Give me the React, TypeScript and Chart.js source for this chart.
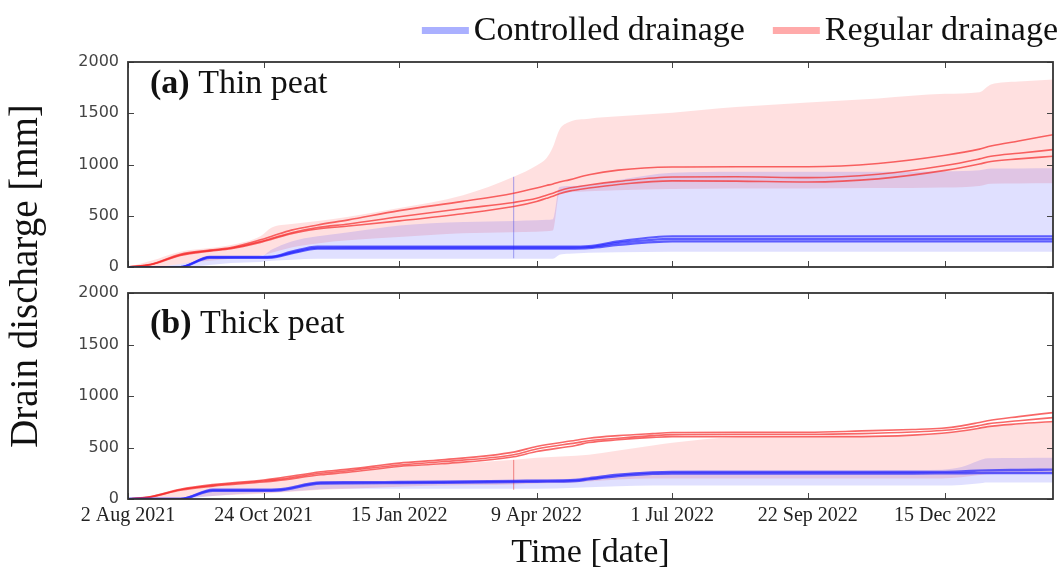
import React, { useEffect, useRef } from 'react';
import { Chart, registerables } from 'chart.js';

Chart.register(...registerables);

// ---------- axes ----------
const xTickDays = [0, 83, 166, 250, 333, 416, 500];
const xTickLabels = ['2 Aug 2021', '24 Oct 2021', '15 Jan 2022', '9 Apr 2022', '1 Jul 2022', '22 Sep 2022', '15 Dec 2022'];
const xMaxDay = 566;
const yTicks = [0, 500, 1000, 1500, 2000];

const legendLabels = ['Controlled drainage', 'Regular drainage'];
const panelLetters = ['(a)', '(b)'];
const panelNames = ['Thin peat', 'Thick peat'];
const yTitle = 'Drain discharge [mm]';
const xTitle = 'Time [date]';

// ---------- panel (a) thin peat : days since 2 Aug 2021 ----------
const daysA = [0, 14, 32, 50, 63, 81, 88, 100, 116, 135, 166, 205, 236, 250, 256, 260, 264, 270, 282, 300, 333, 372, 416, 459, 500, 521, 528, 545, 566];
const aRegHi = [0, 60, 150, 185, 215, 300, 385, 420, 450, 490, 575, 700, 880, 990, 1060, 1170, 1340, 1415, 1447, 1470, 1505, 1560, 1605, 1645, 1690, 1705, 1780, 1810, 1830];
const aRegLo = [0, 0, 30, 60, 80, 110, 140, 190, 230, 260, 293, 330, 340, 345, 350, 355, 715, 730, 740, 750, 760, 765, 765, 770, 775, 790, 812, 815, 817];
const aCtrlHi = [0, 0, 30, 80, 90, 100, 170, 250, 300, 340, 406, 440, 450, 455, 460, 465, 780, 790, 800, 850, 920, 930, 930, 930, 935, 945, 960, 962, 963];
const aCtrlLo = [0, 0, 0, 20, 40, 50, 60, 70, 80, 80, 81, 81, 81, 81, 81, 81, 120, 130, 140, 145, 150, 150, 150, 150, 150, 150, 150, 150, 150];
const aReg1 = [0, 26, 125, 165, 190, 265, 300, 360, 410, 460, 550, 640, 720, 770, 795, 810, 830, 850, 900, 945, 975, 978, 978, 1010, 1090, 1150, 1180, 1230, 1290];
const aReg2 = [0, 24, 118, 160, 183, 248, 280, 335, 385, 420, 490, 570, 630, 670, 700, 720, 745, 770, 800, 835, 878, 880, 872, 905, 990, 1055, 1080, 1110, 1145];
const aReg3 = [0, 22, 112, 155, 178, 240, 270, 325, 370, 400, 450, 520, 590, 640, 670, 690, 715, 740, 770, 805, 840, 838, 830, 860, 943, 1005, 1030, 1055, 1080];
const aCtrl1 = [0, 0, 0, 100, 100, 100, 102, 150, 200, 200, 200, 200, 200, 200, 200, 200, 200, 200, 205, 250, 300, 300, 300, 300, 300, 300, 300, 300, 300];
const aCtrl2 = [0, 0, 0, 95, 95, 95, 97, 140, 188, 190, 190, 190, 190, 190, 190, 190, 190, 190, 195, 235, 275, 275, 275, 275, 275, 275, 275, 275, 275];
const aCtrl3 = [0, 0, 0, 90, 90, 90, 92, 132, 178, 180, 180, 180, 180, 180, 180, 180, 180, 180, 184, 215, 250, 250, 250, 250, 250, 250, 250, 250, 250];
const aStreakDay = [236, 236];
const aStreak = [85, 880];

// ---------- panel (b) thick peat ----------
const daysB = [0, 14, 32, 52, 83, 91, 118, 135, 166, 192, 236, 250, 274, 282, 300, 321, 333, 372, 416, 449, 480, 498, 510, 520, 526, 545, 566];
const bRegHi = [0, 20, 80, 122, 162, 175, 232, 255, 305, 335, 380, 400, 420, 430, 470, 520, 545, 600, 605, 606, 618, 636, 656, 680, 698, 725, 748];
const bRegLo = [0, 0, 10, 30, 50, 60, 90, 100, 120, 130, 140, 150, 160, 170, 190, 200, 200, 200, 200, 200, 200, 200, 210, 230, 240, 245, 250];
const bCtrlHi = [0, 0, 10, 90, 95, 100, 170, 172, 175, 178, 185, 190, 200, 215, 245, 270, 275, 278, 280, 280, 282, 285, 310, 370, 395, 398, 400];
const bCtrlLo = [0, 0, 0, 30, 60, 65, 95, 100, 100, 100, 100, 100, 110, 115, 125, 130, 130, 130, 130, 130, 130, 130, 135, 150, 160, 160, 160];
const bReg1 = [0, 25, 95, 140, 185, 200, 265, 290, 348, 380, 455, 510, 570, 590, 615, 635, 645, 648, 648, 661, 675, 687, 710, 740, 760, 800, 839];
const bReg2 = [0, 22, 90, 132, 175, 188, 250, 275, 330, 362, 430, 485, 545, 565, 590, 615, 625, 628, 628, 635, 650, 665, 685, 710, 729, 760, 790];
const bReg3 = [0, 20, 85, 125, 165, 178, 235, 260, 316, 342, 410, 461, 520, 548, 575, 598, 606, 606, 606, 606, 620, 639, 660, 685, 703, 730, 752];
const bCtrl1 = [0, 0, 0, 90, 90, 92, 160, 162, 165, 168, 175, 178, 185, 200, 235, 258, 262, 262, 262, 262, 262, 263, 268, 275, 278, 282, 285];
const bCtrl2 = [0, 0, 0, 80, 80, 82, 150, 152, 155, 158, 165, 168, 175, 190, 222, 245, 248, 248, 248, 248, 248, 249, 250, 251, 252, 252, 252];
const bStreakDay = [236, 236];
const bStreak = [90, 380];

// ---------- styles ----------
const W = 1061;
const H = 569;
const SERIF = '"Liberation Serif", "Times New Roman", serif';
const SANS = '"DejaVu Sans", sans-serif';
const regFill = 'rgba(255, 0, 0, 0.12)';
const ctrlFill = 'rgba(0, 0, 255, 0.12)';
const regLine = 'rgba(245, 45, 45, 0.72)';
const ctrlLine = 'rgba(40, 40, 255, 0.72)';
const legendColors = ['#aab0ff', '#ffaaaa'];

const pts = (days: number[], vals: number[]) => days.map((d, i) => ({ x: d, y: vals[i] }));

function lineDs(days: number[], vals: number[], color: string, width: number) {
  return {
    data: pts(days, vals),
    borderColor: color,
    borderWidth: width,
    pointRadius: 0,
    fill: false,
    cubicInterpolationMode: 'monotone',
  };
}

function bandDs(days: number[], lo: number[], hi: number[], color: string) {
  return [
    {
      data: pts(days, lo),
      borderColor: 'rgba(0,0,0,0)',
      borderWidth: 0,
      pointRadius: 0,
      fill: false,
      cubicInterpolationMode: 'monotone',
    },
    {
      data: pts(days, hi),
      borderColor: 'rgba(0,0,0,0)',
      borderWidth: 0,
      pointRadius: 0,
      backgroundColor: color,
      fill: { target: '-1', above: color, below: color },
      cubicInterpolationMode: 'monotone',
    },
  ];
}

function framePlugin(idx: number, baselineOffset: number) {
  return {
    id: 'frame' + idx,
    afterDatasetsDraw(chart: any) {
      const { ctx, chartArea: a, scales } = chart;
      const xs = scales.x;
      const ys = scales.y;
      ctx.save();
      ctx.strokeStyle = '#444';
      ctx.lineWidth = 1;
      const tl = 6;
      ctx.beginPath();
      xTickDays.forEach((d) => {
        const px = Math.round(xs.getPixelForValue(d)) + 0.5;
        ctx.moveTo(px, a.bottom);
        ctx.lineTo(px, a.bottom - tl);
        ctx.moveTo(px, a.top);
        ctx.lineTo(px, a.top + tl);
      });
      yTicks.forEach((v) => {
        const py = Math.round(ys.getPixelForValue(v)) + 0.5;
        ctx.moveTo(a.left, py);
        ctx.lineTo(a.left + tl, py);
        ctx.moveTo(a.right, py);
        ctx.lineTo(a.right - tl, py);
      });
      ctx.stroke();
      ctx.strokeStyle = '#333';
      ctx.lineWidth = 1.8;
      ctx.strokeRect(a.left, a.top, a.right - a.left, a.bottom - a.top);
      // panel title
      ctx.fillStyle = '#111';
      ctx.textBaseline = 'alphabetic';
      ctx.textAlign = 'left';
      ctx.font = 'bold 34px ' + SERIF;
      const x0 = a.left + 22;
      const y0 = a.top + baselineOffset;
      ctx.fillText(panelLetters[idx], x0, y0);
      const w = ctx.measureText(panelLetters[idx] + ' ').width;
      ctx.font = '34px ' + SERIF;
      ctx.fillText(panelNames[idx], x0 + w, y0);
      ctx.restore();
    },
  };
}

const legendPlugin = {
  id: 'customLegend',
  afterDraw(chart: any) {
    const { ctx } = chart;
    ctx.save();
    ctx.font = '34px ' + SERIF;
    ctx.textBaseline = 'alphabetic';
    ctx.textAlign = 'left';
    let x = 1058;
    for (let i = legendLabels.length - 1; i >= 0; i--) {
      const w = ctx.measureText(legendLabels[i]).width;
      x -= w;
      ctx.fillStyle = '#111';
      ctx.fillText(legendLabels[i], x, 40);
      x -= 5 + 47;
      ctx.fillStyle = legendColors[i];
      ctx.fillRect(x, 27, 47, 7);
      x -= 28;
    }
    ctx.restore();
  },
};

const yTitlePlugin = {
  id: 'yTitle',
  afterDraw(chart: any) {
    const { ctx } = chart;
    ctx.save();
    ctx.translate(27, 276);
    ctx.rotate(-Math.PI / 2);
    ctx.font = '39px ' + SERIF;
    ctx.fillStyle = '#111';
    ctx.textAlign = 'center';
    ctx.textBaseline = 'middle';
    ctx.fillText(yTitle, 0, 0);
    ctx.restore();
  },
};

function yScale() {
  return {
    min: 0,
    max: 2000,
    afterBuildTicks: (s: any) => {
      s.ticks = yTicks.map((v) => ({ value: v }));
    },
    ticks: {
      font: { family: SANS, size: 16 },
      color: '#444',
      padding: 9,
      callback: (v: any) => String(v),
    },
    grid: { display: false, drawTicks: false },
    border: { display: false },
    afterFit: (s: any) => {
      s.width = 128;
    },
  };
}

function datasetsFor(p: 'a' | 'b') {
  if (p === 'a') {
    return [
      lineDs(daysA, aCtrl1, ctrlLine, 2.2),
      lineDs(daysA, aCtrl2, ctrlLine, 2.2),
      lineDs(daysA, aCtrl3, ctrlLine, 2.2),
      lineDs(daysA, aReg1, regLine, 1.6),
      lineDs(daysA, aReg2, regLine, 1.6),
      lineDs(daysA, aReg3, regLine, 1.6),
      { ...lineDs(aStreakDay, aStreak, 'rgba(90,90,230,0.55)', 1), cubicInterpolationMode: 'default', tension: 0 },
      ...bandDs(daysA, aCtrlLo, aCtrlHi, ctrlFill),
      ...bandDs(daysA, aRegLo, aRegHi, regFill),
    ];
  }
  return [
    lineDs(daysB, bCtrl1, ctrlLine, 2.4),
    lineDs(daysB, bCtrl2, ctrlLine, 2.4),
    lineDs(daysB, bReg1, regLine, 1.6),
    lineDs(daysB, bReg2, regLine, 1.6),
    lineDs(daysB, bReg3, regLine, 1.6),
    { ...lineDs(bStreakDay, bStreak, 'rgba(230,60,60,0.6)', 1), cubicInterpolationMode: 'default', tension: 0 },
    ...bandDs(daysB, bCtrlLo, bCtrlHi, ctrlFill),
    ...bandDs(daysB, bRegLo, bRegHi, regFill),
  ];
}

function makeTopConfig(): any {
  return {
    type: 'line',
    data: { datasets: datasetsFor('a') },
    options: {
      responsive: false,
      devicePixelRatio: 1,
      animation: false,
      layout: { padding: { left: 0, right: 8, top: 62, bottom: H - 267 } },
      plugins: { legend: { display: false }, tooltip: { enabled: false } },
      scales: {
        x: { type: 'linear', min: 0, max: xMaxDay, display: false },
        y: yScale(),
      },
    },
    plugins: [framePlugin(0, 31), legendPlugin],
  };
}

function makeBottomConfig(): any {
  return {
    type: 'line',
    data: { datasets: datasetsFor('b') },
    options: {
      responsive: false,
      devicePixelRatio: 1,
      animation: false,
      layout: { padding: { left: 0, right: 8, top: 293, bottom: 0 } },
      plugins: { legend: { display: false }, tooltip: { enabled: false } },
      scales: {
        x: {
          type: 'linear',
          min: 0,
          max: xMaxDay,
          afterBuildTicks: (s: any) => {
            s.ticks = xTickDays.map((v) => ({ value: v }));
          },
          ticks: {
            autoSkip: false,
            maxRotation: 0,
            padding: 5,
            font: { family: SERIF, size: 20 },
            color: '#222',
            callback: (_v: any, i: number) => xTickLabels[i],
          },
          grid: { display: false, drawTicks: false },
          border: { display: false },
          title: {
            display: true,
            text: xTitle,
            font: { family: SERIF, size: 34 },
            color: '#111',
            padding: { top: 0, bottom: -4 },
          },
          afterFit: (s: any) => {
            s.height = 70;
          },
        },
        y: yScale(),
      },
    },
    plugins: [framePlugin(1, 40), yTitlePlugin],
  };
}

export default function App() {
  const topRef = useRef<HTMLCanvasElement>(null);
  const botRef = useRef<HTMLCanvasElement>(null);

  useEffect(() => {
    const c1 = new Chart(topRef.current as HTMLCanvasElement, makeTopConfig());
    const c2 = new Chart(botRef.current as HTMLCanvasElement, makeBottomConfig());
    return () => {
      c1.destroy();
      c2.destroy();
    };
  }, []);

  return (
    <div style={{ position: 'fixed', left: 0, top: 0, width: W, height: H, background: '#fff' }}>
      <canvas ref={topRef} width={W} height={H} style={{ position: 'absolute', left: 0, top: 0 }} />
      <canvas ref={botRef} width={W} height={H} style={{ position: 'absolute', left: 0, top: 0 }} />
    </div>
  );
}
